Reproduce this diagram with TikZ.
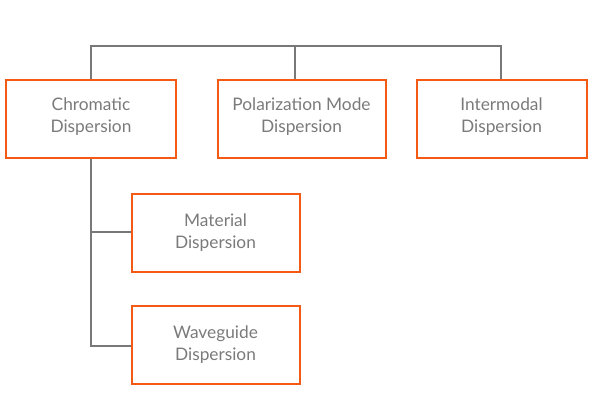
\documentclass[tikz,border=0pt]{standalone}
\usepackage{fontspec}
\setmainfont{Lato}
\definecolor{boxorange}{HTML}{F45A14}
\definecolor{linegray}{HTML}{787878}
\definecolor{textgray}{HTML}{7A7A7A}
\begin{document}
\begin{tikzpicture}[x=1pt,y=-1pt,
  box/.style={draw=boxorange,line width=2pt,rectangle,inner sep=0pt,
    text=textgray,font=\fontsize{17.3}{22}\selectfont,align=center,anchor=north west},
  lbl/.style={text=textgray,font=\fontsize{17.3}{22}\selectfont,align=center,inner sep=0pt},
  conn/.style={draw=linegray,line width=2pt}]
\useasboundingbox (0,0) rectangle (596,414);
\node[box,minimum width=170pt,minimum height=78pt] (chrom) at (5,79.5) {};
\node[box,minimum width=168pt,minimum height=78pt] (pol) at (216.5,79.5) {};
\node[box,minimum width=170pt,minimum height=78pt] (inter) at (415.5,79.5) {};
\node[box,minimum width=168pt,minimum height=78pt] (mat) at (130.5,192.5) {};
\node[box,minimum width=168pt,minimum height=78pt] (wave) at (130.5,304.5) {};
\node[lbl] (chromt) at ([yshift=3pt]chrom.center) {Chromatic\\Dispersion};
\node[lbl] (polt) at ([yshift=3pt]pol.center) {Polarization Mode\\Dispersion};
\node[lbl] (intert) at ([yshift=3pt]inter.center) {Intermodal\\Dispersion};
\node[lbl] (matt) at ([yshift=-0.5pt]mat.center) {Material\\Dispersion};
\node[lbl] (wavet) at ([yshift=-0.5pt]wave.center) {Waveguide\\Dispersion};
\coordinate (topl) at (91,46.5);
\coordinate (topm) at (295,46.5);
\coordinate (topr) at (500.5,46.5);
\draw[conn] (chrom.north -| topl) -- (topl) -- (topr) -- (inter.north -| topr);
\draw[conn] (topm) -- (pol.north -| topm);
\coordinate (b1) at (91,232);
\coordinate (b2) at (91,345.5);
\draw[conn] (chrom.south -| b1) -- (b2) -- (wave.west |- b2);
\draw[conn] (b1) -- (mat.west |- b1);
\end{tikzpicture}
\end{document}
